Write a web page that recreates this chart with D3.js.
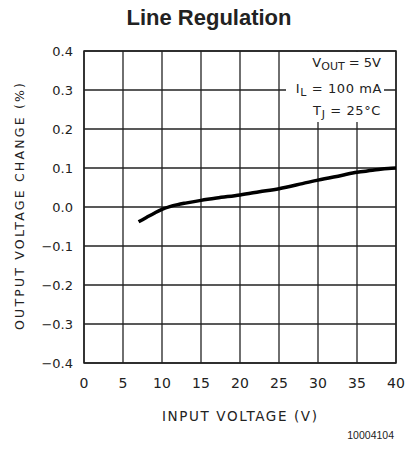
<!DOCTYPE html>
<html><head><meta charset="utf-8">
<script src="https://cdn.jsdelivr.net/npm/d3@7"></script>
<style>body{margin:0;background:#fff}</style>
</head><body>
<script>
const inputV = [7, 8, 9, 10, 11, 12, 13, 15, 17, 20, 22.5, 25, 28, 30, 33, 35, 37, 38, 39, 40];
const change = [-0.038, -0.027, -0.016, -0.006, 0.001, 0.006, 0.010, 0.017, 0.023, 0.031, 0.039, 0.047, 0.060, 0.069, 0.081, 0.089, 0.094, 0.097, 0.099, 0.100];
const xTicks = [0, 5, 10, 15, 20, 25, 30, 35, 40];
const yTicks = [-0.4, -0.3, -0.2, -0.1, 0.0, 0.1, 0.2, 0.3, 0.4];

const W = 407, H = 453;
const svg = d3.select("body").append("svg").attr("width", W).attr("height", H);
const x = d3.scaleLinear().domain([0, 40]).range([84, 396]);
const y = d3.scaleLinear().domain([-0.4, 0.4]).range([363, 51]);

const font = "'DejaVu Sans', sans-serif";
svg.append("text").attr("x", 209).attr("y", 25).attr("text-anchor", "middle")
  .attr("font-family", "'Liberation Sans', Arial, sans-serif").attr("font-weight", "bold")
  .attr("font-size", 22).attr("fill", "#222").text("Line Regulation");

const g = svg.append("g");
g.selectAll(".vx").data(xTicks).join("line")
  .attr("x1", d => x(d)).attr("x2", d => x(d)).attr("y1", y(0.4)).attr("y2", y(-0.4))
  .attr("stroke", "#222").attr("stroke-width", 1.3);
g.selectAll(".hy").data(yTicks).join("line")
  .attr("x1", x(0)).attr("x2", x(40)).attr("y1", d => y(d)).attr("y2", d => y(d))
  .attr("stroke", "#222").attr("stroke-width", 1.3);

// legend mask
g.append("rect").attr("x", 286).attr("y", y(0.4) + 1).attr("width", 98).attr("height", 70).attr("fill", "#fff");
g.append("rect").attr("x", x(0)).attr("y", y(0.4)).attr("width", x(40) - x(0)).attr("height", y(-0.4) - y(0.4))
  .attr("fill", "none").attr("stroke", "#222").attr("stroke-width", 1.5);

svg.append("g").selectAll("text").data(yTicks).join("text")
  .attr("x", 73).attr("y", d => y(d) + 5).attr("text-anchor", "end")
  .attr("font-family", font).attr("font-size", 13).attr("fill", "#222")
  .text(d => d3.format(".1f")(d).replace("-", "\u2212"));
svg.append("g").selectAll("text").data(xTicks).join("text")
  .attr("x", d => x(d)).attr("y", 388).attr("text-anchor", "middle")
  .attr("font-family", font).attr("font-size", 14).attr("fill", "#222")
  .text(d => d);

const lg = svg.append("g").attr("font-family", font).attr("font-size", 13).attr("fill", "#222").attr("text-anchor", "end");
const t1 = lg.append("text").attr("x", 381).attr("y", 67);
t1.append("tspan").text("V");
t1.append("tspan").attr("font-size", 11).attr("dy", 3).text("OUT");
t1.append("tspan").attr("dy", -3).text(" = 5V");
const t2 = lg.append("text").attr("x", 382).attr("y", 93).attr("letter-spacing", 0.6);
t2.append("tspan").text("I");
t2.append("tspan").attr("font-size", 11).attr("dy", 3).text("L");
t2.append("tspan").attr("dy", -3).text(" = 100 mA");
const t3 = lg.append("text").attr("x", 381).attr("y", 115).attr("letter-spacing", 0.6);
t3.append("tspan").text("T");
t3.append("tspan").attr("font-size", 11).attr("dy", 3).text("J");
t3.append("tspan").attr("dy", -3).text(" = 25°C");

const data = inputV.map((v, i) => [v, change[i]]);
svg.append("path").datum(data)
  .attr("d", d3.line().x(d => x(d[0])).y(d => y(d[1])).curve(d3.curveMonotoneX))
  .attr("fill", "none").attr("stroke", "#000").attr("stroke-width", 3.5);

svg.append("text").attr("x", 162).attr("y", 421)
  .attr("font-family", font).attr("font-size", 13.5).attr("fill", "#222")
  .attr("textLength", 155).attr("lengthAdjust", "spacing")
  .text("INPUT VOLTAGE (V)");
svg.append("text").attr("transform", "translate(24,330) rotate(-90)")
  .attr("font-family", font).attr("font-size", 12.5).attr("fill", "#222")
  .attr("textLength", 247).attr("lengthAdjust", "spacing")
  .text("OUTPUT VOLTAGE CHANGE (%)");
svg.append("text").attr("x", 394).attr("y", 439).attr("text-anchor", "end")
  .attr("font-family", "'Liberation Sans', Arial, sans-serif").attr("font-size", 10.5).attr("fill", "#222")
  .text("10004104");
</script>
</body></html>
